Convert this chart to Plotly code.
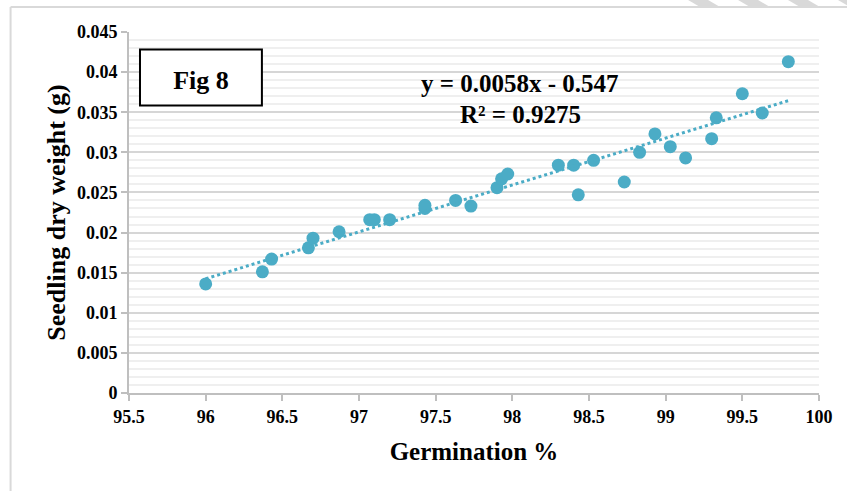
import numpy as np
import plotly.graph_objects as go

# ---- data ----
germination = [96.00, 96.37, 96.43, 96.67, 96.70, 96.87, 97.07, 97.10, 97.20, 97.43,
               97.43, 97.63, 97.73, 97.90, 97.93, 97.97, 98.30, 98.40, 98.43, 98.53,
               98.73, 98.83, 98.93, 99.03, 99.13, 99.30, 99.33, 99.50, 99.63, 99.80]
dry_weight = [0.0136, 0.0151, 0.0167, 0.0181, 0.0193, 0.0201, 0.0216, 0.0216, 0.0216, 0.0230,
              0.0234, 0.0240, 0.0233, 0.0256, 0.0267, 0.0273, 0.0284, 0.0284, 0.0247, 0.0290,
              0.0263, 0.0300, 0.0323, 0.0307, 0.0293, 0.0317, 0.0343, 0.0373, 0.0349, 0.0413]
x_ticks = [95.5, 96, 96.5, 97, 97.5, 98, 98.5, 99, 99.5, 100]
y_ticks = [0, 0.005, 0.01, 0.015, 0.02, 0.025, 0.03, 0.035, 0.04, 0.045]
equation_text = "y = 0.0058x - 0.547"
r2_text = "R² = 0.9275"
fig_label = "Fig 8"

W, H = 847, 491
# plot area in screenshot pixel coordinates
PL, PR, PT, PB = 128.5, 819, 32, 393
PW, PH = PR - PL, PB - PT
def px(x):  # screenshot pixel -> paper x
    return (x - PL) / PW
def py(y):  # screenshot pixel -> paper y
    return (PB - y) / PH

color = "#4bacc6"
font_family = "Liberation Serif, Times New Roman, serif"

# trendline computed from the data
slope, intercept = np.polyfit(germination, dry_weight, 1)
tx = np.array([min(germination), max(germination)])
ty = slope * tx + intercept

fig = go.Figure()
fig.add_trace(go.Scatter(x=germination, y=dry_weight, mode="markers",
                         marker=dict(size=13, color=color, line=dict(width=0)),
                         showlegend=False, hoverinfo="skip"))
fig.add_trace(go.Scatter(x=tx, y=ty, mode="lines",
                         line=dict(color=color, width=3, dash="dot"),
                         showlegend=False, hoverinfo="skip"))

fig.update_layout(
    width=W, height=H,
    margin=dict(l=PL, r=W - PR, t=PT, b=H - PB),
    paper_bgcolor="white", plot_bgcolor="white",
    font=dict(family=font_family, color="black"),
    xaxis=dict(range=[95.5, 100], tickvals=x_ticks, ticktext=[f"{v:g}" for v in x_ticks],
               showgrid=False, zeroline=False, showline=True, linecolor="#bfbfbf", linewidth=2,
               ticks="outside", ticklen=6, tickcolor="#bfbfbf", tickwidth=2,
               tickfont=dict(size=18, family=font_family, color="black", weight="bold"),
               title=dict(text="<b>Germination %</b>", font=dict(size=25), standoff=17)),
    yaxis=dict(range=[0, 0.045], tickvals=y_ticks, ticktext=[f"{v:g}" for v in y_ticks],
               showgrid=True, gridcolor="#d6d6d6", gridwidth=2,
               minor=dict(dtick=0.001, showgrid=True, gridcolor="#efefef", gridwidth=2),
               zeroline=False, showline=True, linecolor="#bfbfbf", linewidth=2,
               ticks="outside", ticklen=6, tickcolor="#bfbfbf", tickwidth=2,
               tickfont=dict(size=18, family=font_family, color="black", weight="bold"),
               title=dict(text="<b>Seedling dry weight (g)</b>", font=dict(size=26), standoff=4)),
)

shapes = []
# outer chart border
shapes.append(dict(type="line", xref="paper", yref="paper", x0=px(10), x1=px(860), y0=py(7), y1=py(7),
                   line=dict(color="#d9d9d9", width=2)))
shapes.append(dict(type="line", xref="paper", yref="paper", x0=px(10), x1=px(10), y0=py(7), y1=py(500),
                   line=dict(color="#d9d9d9", width=2)))
# page watermark stripes at top right
for x0 in [688, 738, 788, 838]:
    shapes.append(dict(type="path", xref="paper", yref="paper",
                       path=f"M {px(x0)} {py(0)} L {px(x0+20)} {py(0)} L {px(x0+32)} {py(7)} L {px(x0+12)} {py(7)} Z",
                       fillcolor="#d9d9d9", line=dict(width=0)))
# Fig 8 box
shapes.append(dict(type="rect", xref="paper", yref="paper", x0=px(139.5), x1=px(261.5), y0=py(49.5), y1=py(105.5),
                   line=dict(color="black", width=2), fillcolor="white",
                   label=dict(text=f"<b>{fig_label}</b>", textposition="middle center",
                              font=dict(size=26, family=font_family, color="black"))))
fig.update_layout(shapes=shapes)

fig.add_annotation(x=px(520), y=py(83), xref="paper", yref="paper", text=f"<b>{equation_text}</b>",
                   xanchor="center", yanchor="middle",
                   showarrow=False, font=dict(size=25, family=font_family, color="black"))
fig.add_annotation(x=px(520), y=py(114), xref="paper", yref="paper", text=f"<b>{r2_text}</b>",
                   xanchor="center", yanchor="middle",
                   showarrow=False, font=dict(size=25, family=font_family, color="black"))

fig.write_html("out.html", config={"displayModeBar": False},
               post_script="document.body.style.margin='0';")
